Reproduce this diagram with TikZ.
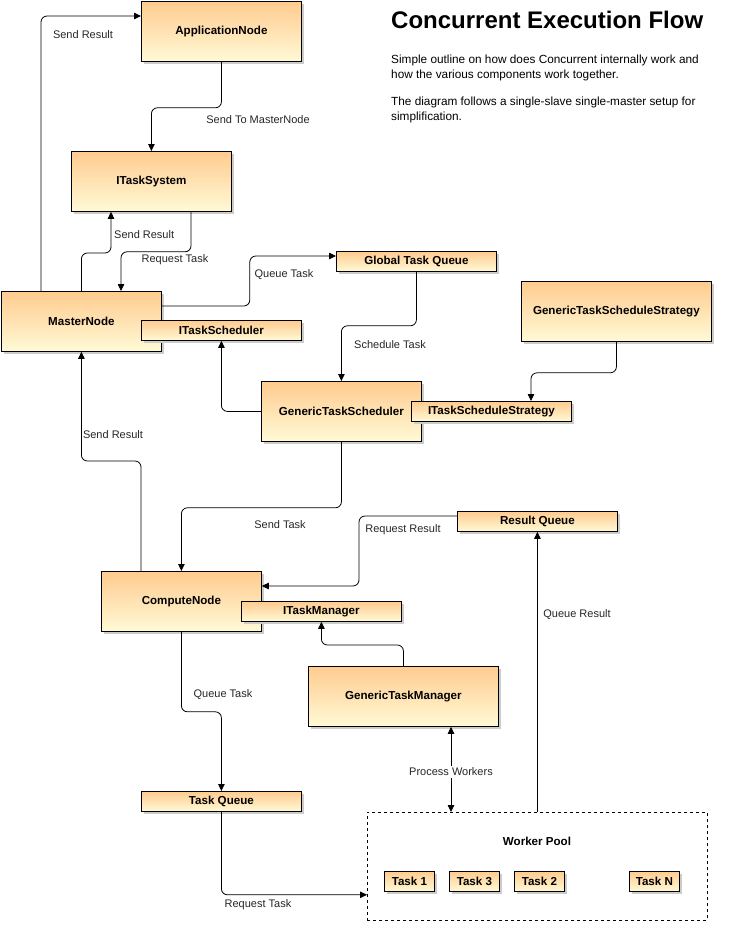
\documentclass[tikz,border=0pt]{standalone}
\usepackage{fontspec}
\setmainfont{Liberation Sans}
\usetikzlibrary{shadows,arrows.meta}
\definecolor{boxtop}{RGB}{255,203,143}
\definecolor{boxbot}{RGB}{255,250,214}
\tikzset{
  box/.style={draw=black, line width=0.8pt, top color=boxtop, bottom color=boxbot,
    drop shadow={shadow xshift=3pt, shadow yshift=-3pt, fill=black!20, opacity=1},
    minimum width=160pt, minimum height=60pt, inner sep=0pt, anchor=north west,
    font=\bfseries\fontsize{11.6}{13}\selectfont},
  smallbox/.style={box, minimum height=20pt},
  taskbox/.style={box, minimum width=50pt, minimum height=20pt},
  conn/.style={draw, line width=0.8pt, rounded corners=6pt, -{Triangle[length=7pt,width=6.5pt]}},
  lbl/.style={font=\fontsize{11}{13}\selectfont, text=black!85, inner sep=1pt, yshift=-1pt},
  body/.style={anchor=base west, inner sep=0pt, font=\fontsize{11.8}{15}\selectfont},
}
\begin{document}
\begin{tikzpicture}[x=1pt,y=-1pt]
\useasboundingbox (0,0) rectangle (733,927);
% title and text
\node[anchor=base west, inner sep=0pt, font=\bfseries\fontsize{24}{28}\selectfont] (title) at (391,28.5) {Concurrent Execution Flow};
\node[body] (t1) at (391,63.5) {Simple outline on how does Concurrent internally work and};
\node[body] (t2) at (391,78.5) {how the various components work together.};
\node[body] (t3) at (391,105.5) {The diagram follows a single-slave single-master setup for};
\node[body] (t4) at (391,120.5) {simplification.};

% worker pool
\node[draw, dashed, line width=0.8pt, minimum width=340pt, minimum height=108pt, anchor=north west, inner sep=0pt] (wp) at (367,812) {};
\node[font=\bfseries\fontsize{11.6}{13}\selectfont, inner sep=0pt] (wpl) at (537,841) {Worker Pool};

% nodes
\node[box] (app) at (141,1) {ApplicationNode};
\node[box] (its) at (71,151) {ITaskSystem};
\node[box] (master) at (1,291) {MasterNode};
\node[smallbox] (itsch) at (141,320) {ITaskScheduler};
\node[smallbox] (gtq) at (336,251) {Global Task Queue};
\node[box, minimum width=190pt] (gtss) at (521,281) {GenericTaskScheduleStrategy};
\node[box] (gts) at (261,381) {GenericTaskScheduler};
\node[smallbox] (itss) at (411,401) {ITaskScheduleStrategy};
\node[smallbox] (rq) at (457,511) {Result Queue};
\node[box] (compute) at (101,571) {ComputeNode};
\node[smallbox] (itm) at (241,601) {ITaskManager};
\node[box, minimum width=190pt] (gtm) at (308,666) {GenericTaskManager};
\node[smallbox] (tq) at (141,791) {Task Queue};
\node[taskbox] (task1) at (384,871) {Task 1};
\node[taskbox] (task3) at (449,871) {Task 3};
\node[taskbox] (task2) at (514,871) {Task 2};
\node[taskbox] (taskn) at (629,871) {Task N};

% connectors
\draw[conn] (app.south) -- ++(0,46) -| (its.north);
\node[lbl] (l1) at (258,119) {Send To MasterNode};

\draw[conn] ([xshift=40pt]master.north west) |- ([yshift=-15pt]app.north west);
\node[lbl] (l2) at (83,34) {Send Result};

\draw[conn] (master.north) -- ++(0,-38) -| ([xshift=40pt]its.south west);
\node[lbl, anchor=west] (l3) at (113,234) {Send Result};

\draw[conn] ([xshift=120pt]its.south west) -- ++(0,40) -| ([xshift=120pt]master.north west);
\node[lbl] (l4) at (175,259) {Request Task};

\draw[conn] ([yshift=-15pt]master.north east) -- ++(88,0) |- ([yshift=-5pt]gtq.north west);
\node[lbl] (l5) at (284,274) {Queue Task};

\draw[conn] (gtq.south) -- ++(0,54) -| (gts.north);
\node[lbl] (l6) at (390,344) {Schedule Task};

\draw[conn] (gts.west) -| (itsch.south);

\draw[conn] (gtss.south) -- ++(0,31) -| ([xshift=120pt]itss.north west);

\draw[conn] (gts.south) -- ++(0,66) -| (compute.north);
\node[lbl] (l7) at (280,524) {Send Task};

\draw[conn] ([xshift=40pt]compute.north west) -- ++(0,-110) -| (master.south);
\node[lbl] (l8) at (113,434) {Send Result};

\draw[conn] ([yshift=-5pt]rq.north west) -- ++(-98,0) |- ([yshift=-15pt]compute.north east);
\node[lbl] (l9) at (403,529) {Request Result};

\draw[conn] (gtm.north) -- ++(0,-21) -| (itm.south);

\draw[conn] (compute.south) -- ++(0,80) -| (tq.north);
\node[lbl] (l10) at (223,694) {Queue Task};

\draw[conn] (tq.south) |- ([yshift=26pt]wp.south west);
\node[lbl] (l11) at (258,904) {Request Task};

\coordinate (pw) at ([xshift=143pt]gtm.south west);
\draw[conn, {Triangle[length=7pt,width=6.5pt]}-{Triangle[length=7pt,width=6.5pt]}] (pw) -- (pw |- wp.north);
\node[lbl, fill=white, inner sep=2pt] (l12) at (451,771) {Process Workers};

\draw[conn] (wp.north) -- (wp.north |- rq.south);
\node[lbl] (l13) at (577,614) {Queue Result};
\end{tikzpicture}
\end{document}
